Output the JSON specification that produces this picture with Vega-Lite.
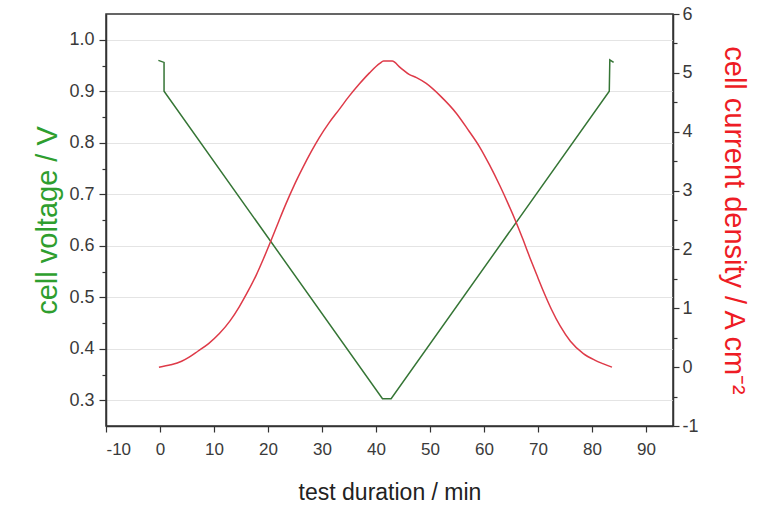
{
  "$schema": "https://vega.github.io/schema/vega-lite/v6.json",
  "autosize": {"type": "none"},
  "padding": {"left": 106, "top": 14, "right": 86, "bottom": 80},
  "width": 567,
  "height": 412,
  "background": "white",
  "config": {
    "font": "Liberation Sans",
    "view": {"stroke": "#333333", "strokeWidth": 1.5},
    "axis": {
      "domainColor": "#333333",
      "domainWidth": 1.5,
      "tickColor": "#333333",
      "tickWidth": 1.2,
      "labelColor": "#3a3a3a",
      "labelFont": "Liberation Sans",
      "titleFont": "Liberation Sans",
      "titleFontWeight": "normal"
    }
  },
  "datasets": {
    "voltage": [
      {"t": -0.3, "v": 0.960},
      {"t": 0.75, "v": 0.956},
      {"t": 0.75, "v": 0.900},
      {"t": 41.2, "v": 0.303},
      {"t": 42.8, "v": 0.303},
      {"t": 83.2, "v": 0.900},
      {"t": 83.3, "v": 0.961},
      {"t": 84.0, "v": 0.956}
    ],
    "current": [
      {"t": -0.2, "i": 0.0},
      {"t": 2, "i": 0.04},
      {"t": 4, "i": 0.10},
      {"t": 5.4, "i": 0.17},
      {"t": 7, "i": 0.27},
      {"t": 9, "i": 0.40},
      {"t": 11, "i": 0.57},
      {"t": 13, "i": 0.79},
      {"t": 14.7, "i": 1.03},
      {"t": 16.3, "i": 1.29},
      {"t": 17.8, "i": 1.56},
      {"t": 19.2, "i": 1.85},
      {"t": 20.6, "i": 2.16},
      {"t": 22, "i": 2.48},
      {"t": 23.3, "i": 2.77},
      {"t": 24.8, "i": 3.08},
      {"t": 26.4, "i": 3.38},
      {"t": 28, "i": 3.66},
      {"t": 29.5, "i": 3.90},
      {"t": 31.3, "i": 4.15},
      {"t": 33.2, "i": 4.38},
      {"t": 35, "i": 4.60},
      {"t": 36.9, "i": 4.81},
      {"t": 38.8, "i": 5.00},
      {"t": 40.7, "i": 5.16},
      {"t": 41.4, "i": 5.20},
      {"t": 43.0, "i": 5.20},
      {"t": 44.5, "i": 5.09},
      {"t": 46.2, "i": 4.97},
      {"t": 47.5, "i": 4.92},
      {"t": 49.3, "i": 4.82},
      {"t": 52, "i": 4.60},
      {"t": 54.9, "i": 4.31},
      {"t": 57, "i": 4.04},
      {"t": 59.2, "i": 3.74},
      {"t": 61, "i": 3.44},
      {"t": 62.9, "i": 3.09},
      {"t": 64.5, "i": 2.77},
      {"t": 66, "i": 2.45},
      {"t": 67.3, "i": 2.15},
      {"t": 68.5, "i": 1.86},
      {"t": 69.8, "i": 1.56},
      {"t": 71, "i": 1.29},
      {"t": 72.5, "i": 0.98},
      {"t": 74.1, "i": 0.70},
      {"t": 76, "i": 0.44},
      {"t": 78.4, "i": 0.23},
      {"t": 80.5, "i": 0.12},
      {"t": 82, "i": 0.06},
      {"t": 83.7, "i": 0.0}
    ]
  },
  "layer": [
    {
      "data": {"name": "voltage"},
      "mark": {"type": "line", "color": "#357535", "strokeWidth": 1.5, "clip": true},
      "encoding": {
        "x": {
          "field": "t", "type": "quantitative",
          "scale": {"domain": [-10, 95], "nice": false, "zero": false},
          "axis": {
            "title": "test duration / min",
            "titleFontSize": 23,
            "titleColor": "#222222",
            "titlePadding": 24,
            "values": [-10, -5, 0, 5, 10, 15, 20, 25, 30, 35, 40, 45, 50, 55, 60, 65, 70, 75, 80, 85, 90],
            "labelExpr": "datum.value % 10 === 0 ? '' + datum.value : ''",
            "labelFontSize": 17,
            "labelPadding": 9,
            "tickSize": {"condition": {"test": "datum.value % 10 === 0", "value": 6}, "value": 4},
            "grid": false
          }
        },
        "y": {
          "field": "v", "type": "quantitative",
          "scale": {"domain": [0.25, 1.05], "nice": false, "zero": false},
          "axis": {
            "orient": "left",
            "title": "cell voltage / V",
            "titleColor": "#2e9e2e",
            "titleFontSize": 29,
            "titlePadding": 6,
            "values": [0.3, 0.35, 0.4, 0.45, 0.5, 0.55, 0.6, 0.65, 0.7, 0.75, 0.8, 0.85, 0.9, 0.95, 1.0],
            "labelExpr": "abs(datum.value*10 - round(datum.value*10)) < 0.001 ? format(datum.value, '.1f') : ''",
            "labelFontSize": 18,
            "labelPadding": 5,
            "tickSize": {"condition": {"test": "abs(datum.value*10 - round(datum.value*10)) < 0.001", "value": 7}, "value": 4},
            "grid": true,
            "gridColor": "#e4e4e4",
            "gridWidth": 1,
            "gridOpacity": {"condition": {"test": "abs(datum.value*10 - round(datum.value*10)) < 0.001", "value": 1}, "value": 0}
          }
        }
      }
    },
    {
      "data": {"name": "current"},
      "mark": {"type": "line", "color": "#de3a48", "strokeWidth": 1.5, "clip": true, "interpolate": "monotone"},
      "encoding": {
        "x": {"field": "t", "type": "quantitative"},
        "y": {
          "field": "i", "type": "quantitative",
          "scale": {"domain": [-1, 6], "nice": false, "zero": false},
          "axis": {
            "orient": "right",
            "title": "cell current density / A cm⁻²",
            "titleColor": "#ee1c25",
            "titleFontSize": 29,
            "titlePadding": 20,
            "values": [-1, -0.5, 0, 0.5, 1, 1.5, 2, 2.5, 3, 3.5, 4, 4.5, 5, 5.5, 6],
            "labelExpr": "datum.value % 1 === 0 ? '' + datum.value : ''",
            "labelFontSize": 18,
            "labelPadding": 3,
            "tickSize": {"condition": {"test": "datum.value % 1 === 0", "value": 6}, "value": 4},
            "grid": false
          }
        }
      }
    }
  ],
  "resolve": {"scale": {"y": "independent"}}
}
